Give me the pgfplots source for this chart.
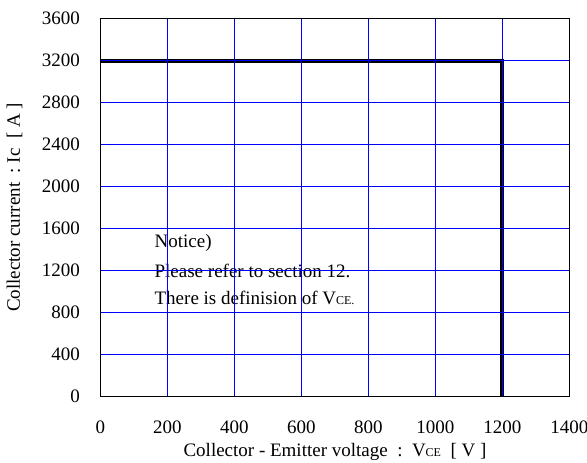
\documentclass[border=0pt]{standalone}
\usepackage{pgfplots}
\pgfplotsset{compat=1.18}
\usepackage{fontspec}
\setmainfont{Liberation Serif}
\definecolor{gridblue}{RGB}{0,0,255}
\begin{document}
\fontsize{19}{22}\selectfont
\begin{tikzpicture}
\useasboundingbox (-100.5pt,-66.5pt) rectangle (486.5pt,396.5pt);
\begin{axis}[
  at={(0,0)}, anchor=south west,
  scale only axis,
  width=469pt, height=378pt,
  xmin=0, xmax=1400, ymin=0, ymax=3600,
  xtick={0,200,...,1400},
  ytick={0,400,...,3600},
  major tick length=0pt,
  grid=major,
  major grid style={draw=gridblue, line width=1.2pt},
  axis line style={black, line width=1pt},
  axis on top,
  /pgf/number format/assume math mode=true,
  /pgf/number format/1000 sep={},
  xticklabel style={yshift=-18pt},
  yticklabel style={xshift=-14pt},
  xlabel={Collector - Emitter voltage\ \ :\ \ V{\fontsize{12}{14}\selectfont CE}\ \ [ V ]},
  ylabel={Collector current\ \ :\ Ic\ \ [ A ]},
  xlabel style={at={(axis description cs:0.5,0)}, anchor=center, yshift=-55pt},
  ylabel style={at={(axis description cs:0,0.5)}, anchor=center, yshift=86pt},
]
\addplot[black, line width=4pt] coordinates {(0,3200) (1200,3200) (1200,0)};
\node[anchor=west, inner sep=0pt] at (axis cs:161,1462) {Notice)};
\node[anchor=west, inner sep=0pt] at (axis cs:161,1195) {Please refer to section 12.};
\node[anchor=west, inner sep=0pt] at (axis cs:161,938) {There is definision of V{\fontsize{12}{14}\selectfont CE.}};
\end{axis}
\end{tikzpicture}
\end{document}
